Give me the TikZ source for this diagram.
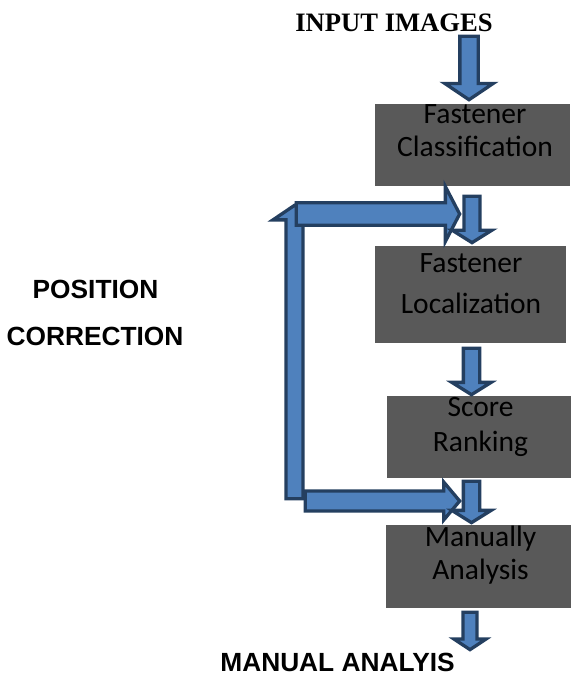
\documentclass[tikz,border=0pt]{standalone}
\usepackage{fontspec}
\setmainfont{Liberation Serif}
\newfontfamily\boxfont{Carlito}
\newfontfamily\capsfont{Liberation Sans}
\usetikzlibrary{shapes.arrows}
\definecolor{arrowfill}{RGB}{79,129,189}
\definecolor{arrowline}{RGB}{36,63,96}
\definecolor{boxgray}{RGB}{89,89,89}
\tikzset{
  procbox/.style={draw=none, fill=boxgray, inner sep=0pt},
  boxtext/.style={font=\boxfont\fontsize{29.5}{33}\selectfont, align=center, inner sep=0pt, text=black, anchor=base},
  blockarrow/.style n args={4}{single arrow, draw=arrowline, fill=arrowfill, line width=3.3pt, inner sep=0pt, minimum width=0pt, text height=#1, single arrow head extend=#2, single arrow tip angle=#3, minimum height=#4, anchor=tail},
  caption/.style={font=\capsfont\bfseries\fontsize{26.3}{30}\selectfont, inner sep=0pt, anchor=base},
}
\begin{document}
\begin{tikzpicture}[x=1pt,y=1pt,yscale=-1,xscale=1]
\useasboundingbox (0,0) rectangle (571,676);

%process boxes
\node[procbox, minimum width=195, minimum height=82] (cls) at (472.5,145) {};
\node[procbox, minimum width=191, minimum height=97] (loc) at (470.5,294.5) {};
\node[procbox, minimum width=184, minimum height=82] (rank) at (479,437) {};
\node[procbox, minimum width=185, minimum height=83] (man) at (478.5,566.5) {};

%base anchor sits on the last line
\node[boxtext] (clsT) at (475,157) {Fastener\\Classification};
\node[boxtext] (locT) at (471,313) {Fastener\\[8pt]Localization};
\node[boxtext] (rankT) at (480.5,451) {Score\\[2pt]Ranking};
\node[boxtext] (manT) at (480.5,579) {Manually\\Analysis};

%feedback loop
\node[blockarrow={13.7pt}{13pt}{112}{293.4}, rotate=90] (fbUp) at (294.5,500.4) {};
\node[blockarrow={19pt}{16.3pt}{125}{163.4}] (fbTop) at (294.6,214) {};
\node[blockarrow={16.7pt}{9pt}{100}{154.4}] (fbBot) at (303.6,501) {};

%down arrows
\node[blockarrow={15pt}{15pt}{112}{63.5}, rotate=-90] (a1) at (469,34.6) {};
\node[blockarrow={12.7pt}{12pt}{116}{46.4}, rotate=-90] (a2) at (472,194.6) {};
\node[blockarrow={13pt}{11.5pt}{116}{46.4}, rotate=-90] (a3) at (471.5,346.6) {};
\node[blockarrow={13pt}{11.5pt}{116}{41.4}, rotate=-90] (a4) at (471.5,479.6) {};
\node[blockarrow={10.7pt}{9pt}{113}{37.4}, rotate=-90] (a5) at (470,610.6) {};

%captions
\node[caption, font=\rmfamily\bfseries\fontsize{26.6}{30}\selectfont] (input) at (394,32) {INPUT IMAGES};
\node[caption] (pos) at (95.5,298) {POSITION};
\node[caption] (corr) at (95,345) {CORRECTION};
\node[caption] (out) at (337.5,671) {MANUAL ANALYIS};

\end{tikzpicture}
\end{document}
